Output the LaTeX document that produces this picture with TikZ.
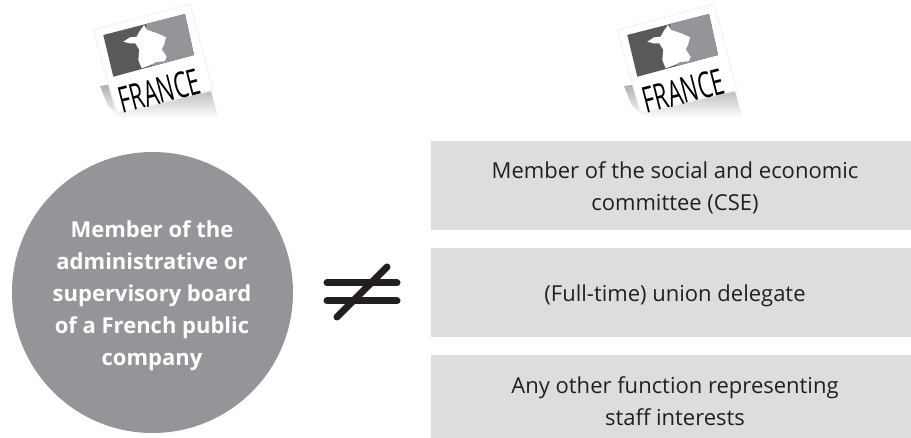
\documentclass[tikz,border=0pt]{standalone}
\usepackage{fontspec}
\setmainfont{Open Sans}
\usetikzlibrary{fadings}
\definecolor{circlegray}{HTML}{939598}
\definecolor{boxgray}{HTML}{DCDDDF}
\definecolor{mapdark}{HTML}{58595B}
\definecolor{maplight}{HTML}{939598}
\definecolor{inkblack}{HTML}{231F20}
\tikzset{
	every node/.style={text=inkblack, align=center, font=\fontsize{22}{32}\selectfont},
	board/.style={circle, fill=circlegray, minimum size=281pt, inner sep=0pt},
	boardtext/.style={text=white, font=\fontsize{22}{32}\selectfont\bfseries},
	function/.style={fill=boxgray, minimum width=480pt, inner sep=0pt},
	notequal/.style={line width=7pt, line cap=round, draw=inkblack},
	flag/.pic={
		\fill [black!32, path fading=south] (-52,28) -- (-38,26) -- (58,30) -- (66,58) -- (-30,60) -- (-44,48) -- cycle;
		\fill [white, draw=black!4, line width=1.5pt] (-59,-28) -- (38,-54) -- (61,32) -- (-35,55) -- cycle;
		\fill [mapdark] (-48.7,-23) -- (33,-44) -- (42,-3) -- (-38.7,18.7) -- cycle;
		\fill [maplight] (-6,-34) -- (33,-44) -- (42,-3) -- (0,8) -- cycle;
		\fill [white] (-8,-33) -- (-4.7,-28) -- (5.3,-24.7) -- (14,-20.7) -- (12,-13) -- (9.7,-8.7)
			-- (14.7,-1.3) -- (12.7,3.3) -- (4,4) -- (-2,7.3) -- (-10.3,10.3) -- (-13.7,2) -- (-12.7,-8)
			-- (-16.7,-14.7) -- (-22.7,-14.7) -- (-28.7,-16.3) -- (-22,-20.7) -- (-15.3,-21.3) -- (-12.7,-26.3) -- cycle;
		\node [rotate=14.5, xscale=.62, text=black, font=\fontsize{36}{38}\selectfont] (flagtext) at (7.5,33) {FRANCE};
	}
}
\begin{document}
\begin{tikzpicture}[x=1pt,y=-1pt]
	\useasboundingbox (0,0) rectangle (911,438);
	\pic at (152,58) {flag};
	\pic at (676,58) {flag};
	\node (member) [board] at (152.5,292.5) {};
	\node (membertext) [boardtext] at (152,296) {Member of the\\administrative or\\supervisory board\\of a French public\\company};
	\node (cse) [function, minimum height=89pt] at (671,185.5) {};
	\node (csetext) at (675,188) {Member of the social and economic\\committee (CSE)};
	\node (union) [function, minimum height=89pt] at (671,292.5) {};
	\node (uniontext) at (675,296) {(Full-time) union delegate};
	\node (other) [function, minimum height=83pt] at (671,396.5) {};
	\node (othertext) at (675,401) {Any other function representing\\staff interests};
	\coordinate (e1) at (327,283); \coordinate (e2) at (397,283);
	\coordinate (e3) at (327,301); \coordinate (e4) at (397,301);
	\coordinate (s1) at (337,317); \coordinate (s2) at (387,267);
	\draw [notequal] (e1) -- (e2);
	\draw [notequal] (e3) -- (e4);
	\draw [notequal] (s1) -- (s2);
\end{tikzpicture}
\end{document}
